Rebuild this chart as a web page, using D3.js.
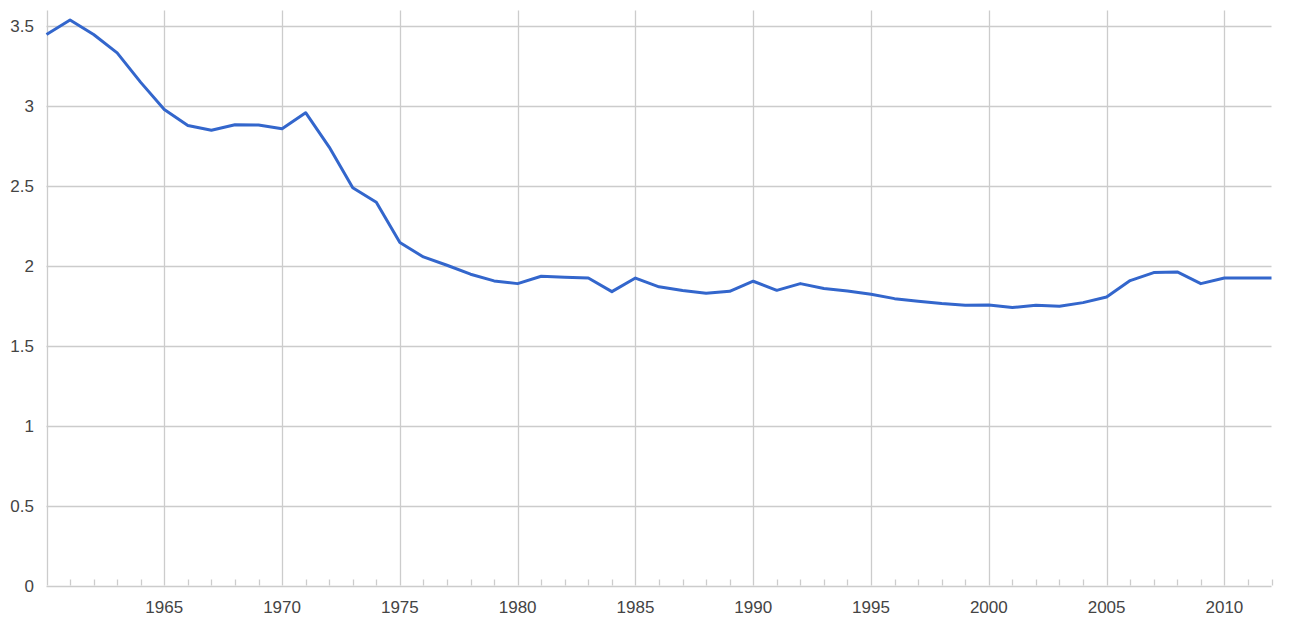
<!DOCTYPE html>
<html><head><meta charset="utf-8">
<script src="https://cdn.jsdelivr.net/npm/d3@7"></script>
<style>html,body{margin:0;padding:0;background:#fff;}svg{display:block;}</style>
</head><body>
<svg id="chart" width="1291" height="617"></svg>
<script>
const years = d3.range(1960, 2013);
const values = [3.45,3.54,3.45,3.335,3.15,2.98,2.88,2.85,2.885,2.883,2.86,2.96,2.745,2.49,2.40,2.147,2.057,2.005,1.949,1.907,1.89,1.936,1.93,1.925,1.84,1.925,1.87,1.847,1.83,1.842,1.905,1.848,1.89,1.859,1.844,1.823,1.796,1.78,1.765,1.754,1.756,1.74,1.754,1.748,1.771,1.806,1.909,1.959,1.963,1.89,1.925,1.925,1.925];
const xTickLabels = [1965,1970,1975,1980,1985,1990,1995,2000,2005,2010];
const yTickValues = [0,0.5,1,1.5,2,2.5,3,3.5];

const svg = d3.select("#chart");
const mLeft = 46.5, mRight = 1271.5, mTop = 10.5, mBottom = 585.5;
const x = d3.scaleLinear().domain([1960, 2012]).range([mLeft, mRight]);
const y = d3.scaleLinear().domain([0, 3.6]).range([mBottom, mTop]);
const grid = "#cccccc";

// horizontal grid
svg.append("g").selectAll("line").data(yTickValues).join("line")
  .attr("x1", mLeft).attr("x2", mRight)
  .attr("y1", d => Math.round(y(d)) + 0.5).attr("y2", d => Math.round(y(d)) + 0.5)
  .attr("stroke", grid).attr("stroke-width", 1.3);

// vertical grid at major years + left edge
svg.append("g").selectAll("line").data([1960].concat(xTickLabels)).join("line")
  .attr("x1", d => Math.round(x(d)) + 0.5).attr("x2", d => Math.round(x(d)) + 0.5)
  .attr("y1", mTop).attr("y2", mBottom)
  .attr("stroke", grid).attr("stroke-width", 1.3);

// minor ticks
svg.append("g").selectAll("line").data(years.filter(d => d % 5 !== 0)).join("line")
  .attr("x1", d => Math.round(x(d)) + 0.5).attr("x2", d => Math.round(x(d)) + 0.5)
  .attr("y1", mBottom - 6).attr("y2", mBottom)
  .attr("stroke", grid).attr("stroke-width", 1.3);

// y labels
svg.append("g").selectAll("text").data(yTickValues).join("text")
  .attr("x", 34).attr("y", d => y(d) + 6)
  .attr("text-anchor", "end")
  .attr("font-family", "Liberation Sans, Arial, sans-serif")
  .attr("font-size", 17).attr("fill", "#444")
  .text(d => d3.format("")(d));

// x labels
svg.append("g").selectAll("text").data(xTickLabels).join("text")
  .attr("x", d => x(d)).attr("y", 612.5)
  .attr("text-anchor", "middle")
  .attr("font-family", "Liberation Sans, Arial, sans-serif")
  .attr("font-size", 17).attr("fill", "#444")
  .text(d => d);

// line
const line = d3.line().x((d, i) => x(years[i])).y(d => y(d));
svg.append("path").datum(values)
  .attr("d", line).attr("fill", "none")
  .attr("stroke", "#3366cc").attr("stroke-width", 3)
  .attr("stroke-linejoin", "round");
</script>
</body></html>
